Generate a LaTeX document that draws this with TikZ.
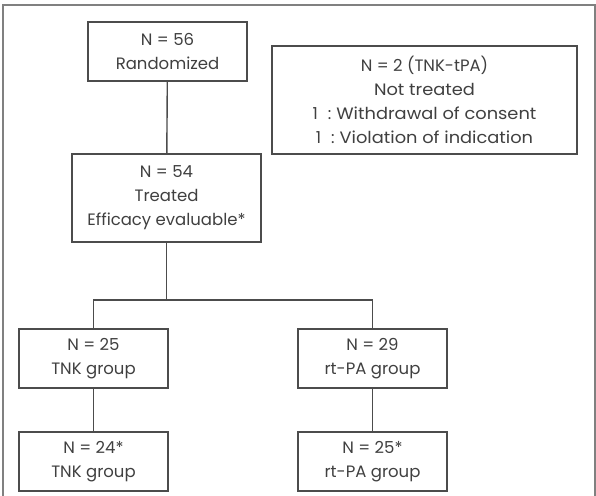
\documentclass[tikz,border=0pt]{standalone}
\usepackage{fontspec}
\setmainfont{Poppins}
\newfontfamily\widefont[FakeStretch=1.08]{Poppins}
\newcommand{\cnt}[2]{#1\hspace{10pt}:\hspace{5pt}{\widefont #2}}
\begin{document}
\begin{tikzpicture}[x=1pt,y=-1pt,
  box/.style={draw=black!70,line width=1.4pt,fill=white,inner sep=0pt,align=center,
    text=black!75,font=\fontsize{16.5}{24}\selectfont},
  link/.style={draw=black!70,line width=1.4pt},
  frame/.style={draw=black!50,line width=1.4pt}]
\useasboundingbox (0,0) rectangle (596,495);
\draw[frame] (3,5) rectangle (595,520);
\node[box,minimum width=159pt,minimum height=59pt] (rand) at (167.5,51.5) {N = 56\\Randomized};
\node[box,minimum width=189pt,minimum height=88pt] (treat) at (166.5,198) {N = 54\\Treated\\Efficacy evaluable*};
\node[box,minimum width=305pt,minimum height=108pt] (excl) at (424.5,100) {N = 2 (TNK-tPA)\\{\widefont Not treated}\\\cnt{1}{Withdrawal of consent}\\\cnt{1}{Violation of indication}};
\node[box,minimum width=149pt,minimum height=59pt] (tnk1) at (93.5,358.5) {N = 25\\TNK group};
\node[box,minimum width=149pt,minimum height=59pt] (rt1) at (372.5,358.5) {N = 29\\rt-PA group};
\node[box,minimum width=149pt,minimum height=59pt] (tnk2) at (93.5,461.5) {N = 24*\\TNK group};
\node[box,minimum width=149pt,minimum height=59pt] (rt2) at (372.5,461.5) {N = 25*\\rt-PA group};
\coordinate (split) at (166.5,300);
\draw[link] (rand) -- (treat);
\draw[link] (treat) -- (split);
\draw[link] (tnk1.north) |- (split) -| (rt1.north);
\draw[link] (tnk1) -- (tnk2);
\draw[link] (rt1) -- (rt2);
\end{tikzpicture}
\end{document}
